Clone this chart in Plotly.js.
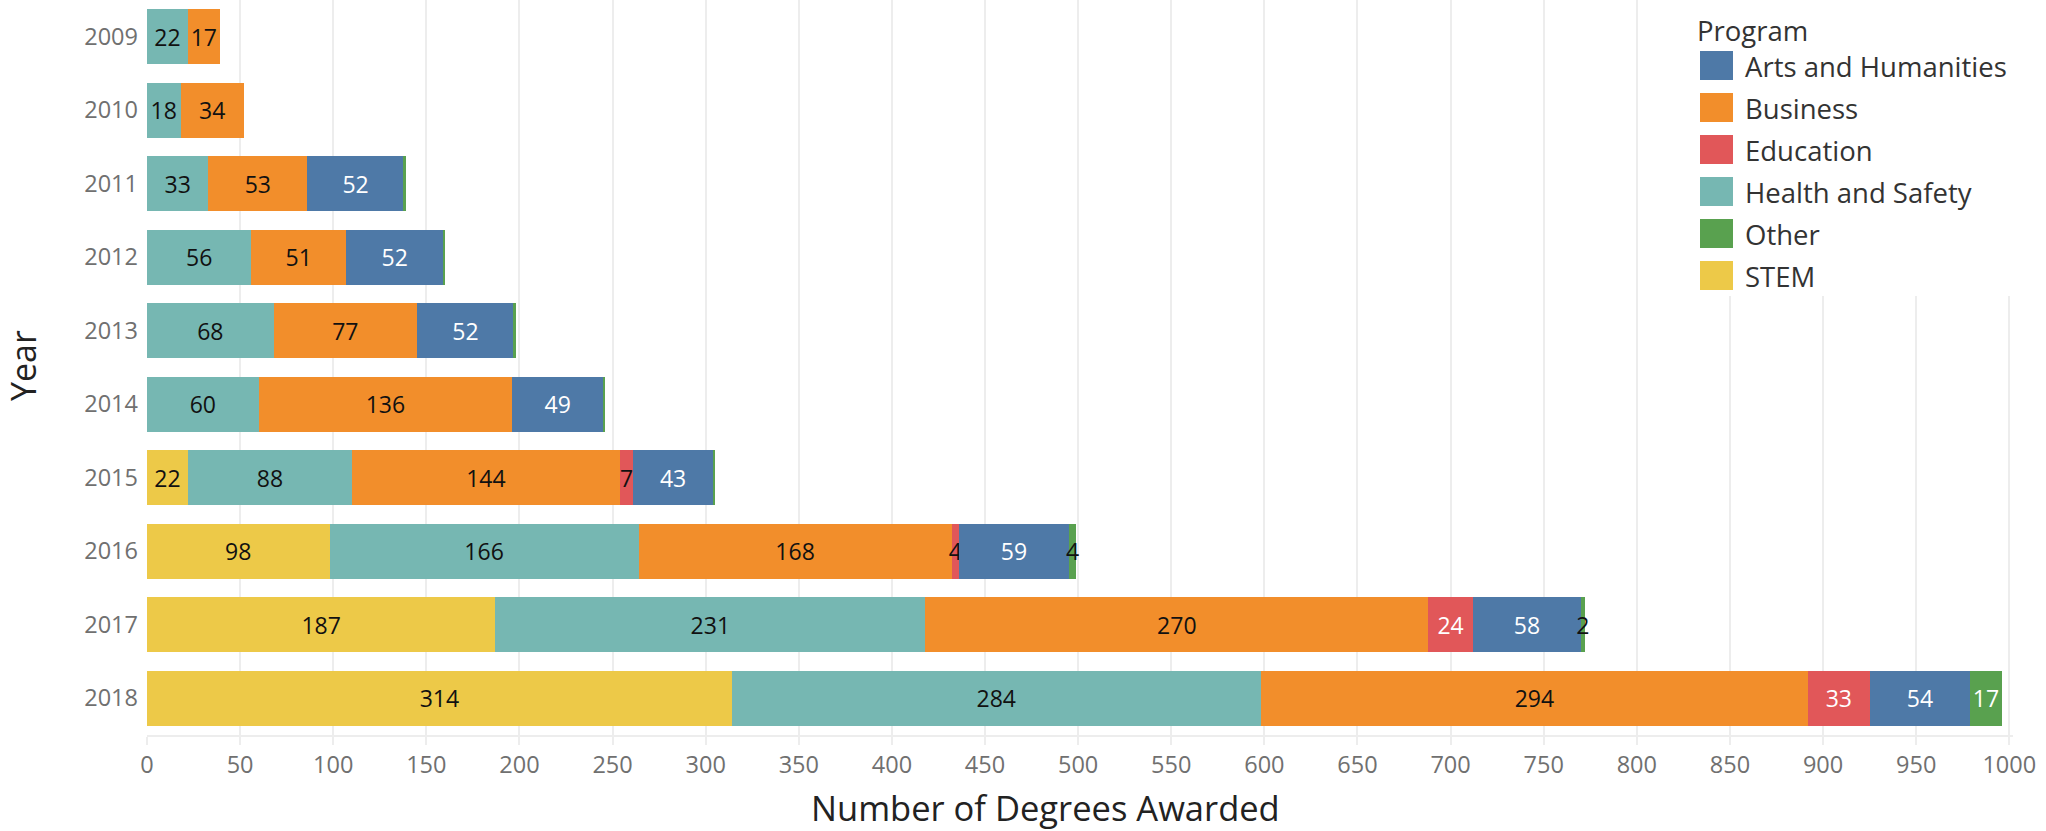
<!DOCTYPE html>
<html>
<head>
<meta charset="utf-8">
<script src="https://cdn.plot.ly/plotly-3.0.1.min.js"></script>
<style>
html,body{margin:0;padding:0;background:#ffffff;}
#chart{width:2046px;height:831px;}
</style>
</head>
<body>
<div id="chart"></div>
<script>
// ---- data ----
const years = ['2009','2010','2011','2012','2013','2014','2015','2016','2017','2018'];
const stem      = [0, 0, 0, 0, 0, 0, 22, 98, 187, 314];
const health    = [22, 18, 33, 56, 68, 60, 88, 166, 231, 284];
const business  = [17, 34, 53, 51, 77, 136, 144, 168, 270, 294];
const education = [0, 0, 0, 0, 0, 0, 7, 4, 24, 33];
const arts      = [0, 0, 52, 52, 52, 49, 43, 59, 58, 54];
const other     = [0, 0, 1, 1, 1, 1, 1, 4, 2, 17];

const stackOrder  = ['STEM', 'Health and Safety', 'Business', 'Education', 'Arts and Humanities', 'Other'];
const legendOrder = ['Arts and Humanities', 'Business', 'Education', 'Health and Safety', 'Other', 'STEM'];
const seriesValues = {
  'STEM': stem,
  'Health and Safety': health,
  'Business': business,
  'Education': education,
  'Arts and Humanities': arts,
  'Other': other
};
const xTitle = 'Number of Degrees Awarded';
const yTitle = 'Year';
const legendTitle = 'Program';

// ---- styles ----
const programColors = {
  'Arts and Humanities': '#4e79a7',
  'Business': '#f28e2b',
  'Education': '#e15759',
  'Health and Safety': '#76b7b2',
  'Other': '#59a14f',
  'STEM': '#edc948'
};
const labelColors = {
  'Arts and Humanities': '#ffffff',
  'Business': '#111111',
  'Education': '#ffffff',
  'Health and Safety': '#111111',
  'Other': '#ffffff',
  'STEM': '#111111'
};
const FONT = '"Open Sans", "DejaVu Sans", sans-serif';

const W = 2046, H = 831;
const M = {l: 147, r: 33, t: 0, b: 96};
const plotW = W - M.l - M.r, plotH = H - M.t - M.b;
const px2x = px => (px - M.l) / plotW;
const px2y = py => 1 - (py - M.t) / plotH;

const traces = stackOrder.map(name => {
  const vals = seriesValues[name];
  return {
    type: 'bar',
    orientation: 'h',
    name: name,
    y: years,
    x: vals,
    marker: {color: programColors[name]},
    text: vals.map(v => (v > 1 ? String(v) : '')),
    textposition: 'inside',
    insidetextanchor: 'middle',
    constraintext: 'none',
    textangle: 0,
    insidetextfont: {
      family: FONT,
      size: 23,
      color: vals.map(v => (v < 10 ? '#111111' : labelColors[name]))
    },
    showlegend: false,
    hovertemplate: name + '<br>%{y}: %{x}<extra></extra>'
  };
});

// ---- custom legend (big swatches) ----
const shapes = [{
  type: 'rect', xref: 'paper', yref: 'paper', layer: 'above',
  x0: px2x(1684), x1: px2x(2040), y0: px2y(0), y1: px2y(296),
  fillcolor: '#ffffff', line: {width: 0}
}];
const annotations = [{
  xref: 'paper', yref: 'paper', x: px2x(1695), y: px2y(30),
  xanchor: 'left', yanchor: 'middle', showarrow: false,
  text: legendTitle, font: {family: FONT, size: 27.5, color: '#333333'}
}];
legendOrder.forEach((name, i) => {
  const cy = 65.5 + 42 * i;
  shapes.push({
    type: 'rect', xref: 'paper', yref: 'paper', layer: 'above',
    x0: px2x(1700), x1: px2x(1733), y0: px2y(cy - 14.5), y1: px2y(cy + 14.5),
    fillcolor: programColors[name], line: {width: 0}
  });
  annotations.push({
    xref: 'paper', yref: 'paper', x: px2x(1743), y: px2y(cy + 1),
    xanchor: 'left', yanchor: 'middle', showarrow: false,
    text: name, font: {family: FONT, size: 27.5, color: '#333333'}
  });
});
// axis titles (placed as in the reference)
annotations.push({
  xref: 'paper', yref: 'paper', x: px2x(1045), y: px2y(807),
  xanchor: 'center', yanchor: 'middle', showarrow: false,
  text: xTitle, font: {family: FONT, size: 34.5, color: '#222222'}
});
annotations.push({
  xref: 'paper', yref: 'paper', x: px2x(23), y: px2y(366),
  xanchor: 'center', yanchor: 'middle', showarrow: false, textangle: -90,
  text: yTitle, font: {family: FONT, size: 34, color: '#222222'}
});

const layout = {
  width: W, height: H,
  margin: M,
  barmode: 'stack',
  bargap: 0.25,
  paper_bgcolor: '#ffffff',
  plot_bgcolor: '#ffffff',
  font: {family: FONT, color: '#333333'},
  showlegend: false,
  xaxis: {
    range: [0, 1002],
    tick0: 0, dtick: 50,
    showgrid: true, gridcolor: '#ededed', gridwidth: 2,
    zeroline: false,
    showline: true, linecolor: '#ededed', linewidth: 2,
    ticks: 'outside', ticklen: 8, tickwidth: 2, tickcolor: '#ededed',
    tickfont: {family: FONT, size: 23.5, color: '#707070'},
    automargin: false
  },
  yaxis: {
    type: 'category',
    autorange: 'reversed',
    showgrid: false, zeroline: false, showline: false,
    ticks: '',
    ticklabelstandoff: 8,
    tickfont: {family: FONT, size: 23.5, color: '#707070'},
    automargin: false
  },
  shapes: shapes,
  annotations: annotations
};

Plotly.newPlot('chart', traces, layout, {displayModeBar: false});
</script>
</body>
</html>
